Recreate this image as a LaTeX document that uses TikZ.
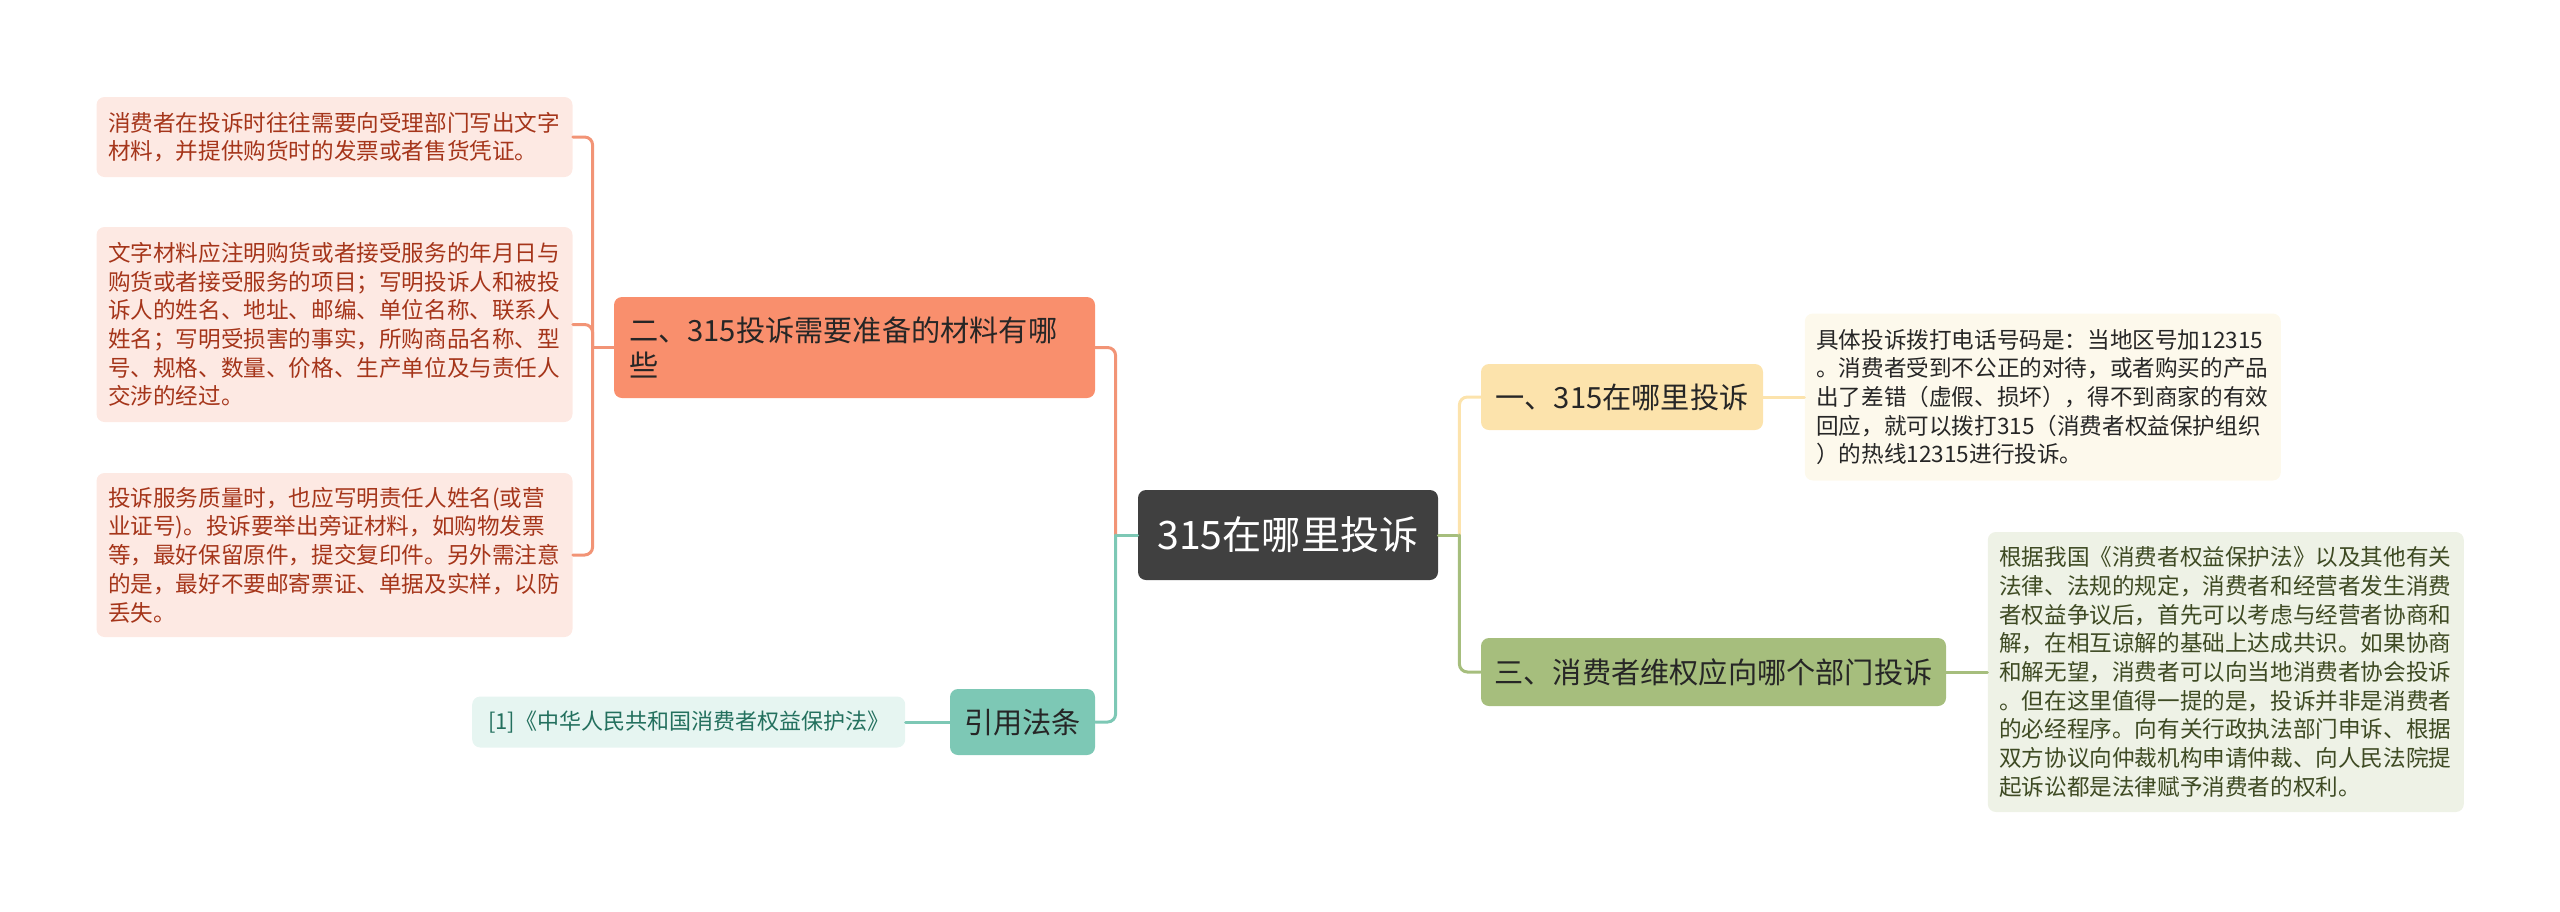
\documentclass[tikz,border=0pt]{standalone}
\usepackage{fontspec}
\setmainfont{Noto Sans CJK SC}
\usetikzlibrary{positioning}
\definecolor{rootfill}{HTML}{404040}
\definecolor{salmon}{HTML}{F98F6D}
\definecolor{salmonline}{HTML}{F29476}
\definecolor{pinkfill}{HTML}{FDE9E3}
\definecolor{pinktext}{HTML}{A5351A}
\definecolor{teal}{HTML}{7DC8B5}
\definecolor{tealfill}{HTML}{E6F5F1}
\definecolor{tealtext}{HTML}{23705E}
\definecolor{sand}{HTML}{FCE3AC}
\definecolor{sandfill}{HTML}{FDF9EC}
\definecolor{olive}{HTML}{A6BE7D}
\definecolor{olivefill}{HTML}{EEF2E6}
\definecolor{olivetext}{HTML}{3E4A23}
\definecolor{ink}{HTML}{262626}
\newcommand{\leaffont}{\fontsize{11.3pt}{14.35pt}\selectfont}
\newcommand{\topicfont}{\fontsize{14.6pt}{17.5pt}\selectfont}

\begin{document}
\begin{tikzpicture}[x=0.5pt, y=-0.5pt,
    box/.style={rectangle, rounded corners=4pt, inner ysep=0pt},
    rootbox/.style={box, fill=rootfill, text=white, minimum width=150pt, minimum height=45pt, font=\fontsize{19.6pt}{22pt}\selectfont},
    topicbox/.style={box, inner xsep=7.5pt, text=ink, font=\topicfont},
    leafbox/.style={box, inner xsep=5.75pt, text width=226.5pt, align=left, font=\leaffont},
    link/.style={line width=1.5pt, line cap=round, rounded corners=4pt}]
    \useasboundingbox (0,0) rectangle (2560,911);

    % Nodes
    \node [rootbox] (root) at (1288,535) {315在哪里投诉};

    \node [topicbox, fill=salmon, text width=225.5pt, align=left, minimum height=50.5pt] (material) at (854.5,347.5) {二、315投诉需要准备的材料有哪\\些};
    \node [leafbox, fill=pinkfill, text=pinktext, minimum height=40pt] (written) at (334.5,137) {消费者在投诉时往往需要向受理部门写出文字\\材料，并提供购货时的发票或者售货凭证。};
    \node [leafbox, fill=pinkfill, text=pinktext, minimum height=97.5pt] (details) at (334.5,324.5) {文字材料应注明购货或者接受服务的年月日与\\购货或者接受服务的项目；写明投诉人和被投\\诉人的姓名、地址、邮编、单位名称、联系人\\姓名；写明受损害的事实，所购商品名称、型\\号、规格、数量、价格、生产单位及与责任人\\交涉的经过。};
    \node [leafbox, fill=pinkfill, text=pinktext, minimum height=82pt] (service) at (334.5,555) {投诉服务质量时，也应写明责任人姓名(或营\\业证号)。投诉要举出旁证材料，如购物发票\\等，最好保留原件，提交复印件。另外需注意\\的是，最好不要邮寄票证、单据及实样，以防\\丢失。};

    \node [topicbox, fill=teal, text=ink, minimum width=72.5pt, minimum height=33pt, inner xsep=0pt] (cite) at (1022.5,722) {引用法条};
    \node [box, fill=tealfill, text=tealtext, minimum width=216.5pt, minimum height=25.5pt, font=\fontsize{11pt}{13pt}\selectfont, left=22pt of cite] (law) {[1]《中华人民共和国消费者权益保护法》};

    \node [topicbox, fill=sand, minimum width=141pt, minimum height=33pt, inner xsep=0pt] (where) at (1622,397) {一、315在哪里投诉};
    \node [leafbox, fill=sandfill, text=ink, minimum height=83.5pt, right=20.5pt of where] (hotline) {具体投诉拨打电话号码是：当地区号加12315\\。消费者受到不公正的对待，或者购买的产品\\出了差错（虚假、损坏），得不到商家的有效\\回应，就可以拨打315（消费者权益保护组织\\）的热线12315进行投诉。};

    \node [topicbox, fill=olive, minimum width=232.5pt, minimum height=34pt, inner xsep=0pt] (dept) at (1713.5,672) {三、消费者维权应向哪个部门投诉};
    \node [leafbox, fill=olivefill, text=olivetext, minimum height=140pt, right=20.5pt of dept] (rights) {根据我国《消费者权益保护法》以及其他有关\\法律、法规的规定，消费者和经营者发生消费\\者权益争议后，首先可以考虑与经营者协商和\\解，在相互谅解的基础上达成共识。如果协商\\和解无望，消费者可以向当地消费者协会投诉\\。但在这里值得一提的是，投诉并非是消费者\\的必经程序。向有关行政执法部门申诉、根据\\双方协议向仲裁机构申请仲裁、向人民法院提\\起诉讼都是法律赋予消费者的权利。};

    % Paths
    \coordinate (rootL) at ([xshift=-11pt]root.west);
    \coordinate (rootR) at ([xshift=10.5pt]root.east);
    \coordinate (materialL) at ([xshift=-10.5pt]material.west);
    \draw [link, teal] (root.west) -- (rootL);
    \draw [link, salmonline] (rootL) |- (material.east);
    \draw [link, teal] (rootL) |- (cite.east);
    \draw [link, salmonline] (material.west) -- (materialL);
    \draw [link, salmonline] (materialL) |- (written.east);
    \draw [link, salmonline] (materialL) |- (details.east);
    \draw [link, salmonline] (materialL) |- (service.east);
    \draw [link, teal] (cite.west) -- (law.east);
    \draw [link, olive] (root.east) -- (rootR);
    \draw [link, sand] (rootR) |- (where.west);
    \draw [link, olive] (rootR) |- (dept.west);
    \draw [link, sand] (where.east) -- (hotline.west);
    \draw [link, olive] (dept.east) -- (rights.west);
\end{tikzpicture}
\end{document}
